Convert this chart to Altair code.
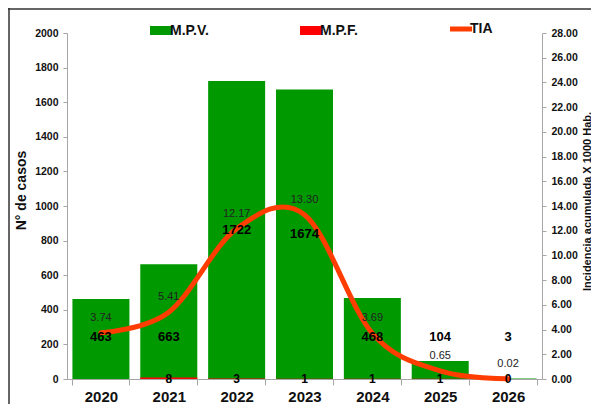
import altair as alt
import pandas as pd

# ---- data ----
years = ["2020", "2021", "2022", "2023", "2024", "2025", "2026"]
mpv = [463, 663, 1722, 1674, 468, 104, 3]
mpf = [None, 8, 3, 1, 1, 1, 0]
tia = [3.74, 5.41, 12.17, 13.30, 3.69, 0.65, 0.02]
series = ["M.P.V.", "M.P.F.", "TIA"]
left_ticks = list(range(0, 2001, 200))
right_ticks = list(range(0, 29, 2))

GREEN = "#009900"
RED = "#ff0000"
ORANGE = "#ff3d00"
INK = "#111111"
AXIS_GRAY = "#a6a6a6"
FONT = "Liberation Sans"
NARROW = "Liberation Sans Narrow, Arial Narrow, Liberation Sans"

rows = []
for yr, v in zip(years, mpv):
    rows.append({"year": yr, "serie": "M.P.V.", "value": v})
for yr, v in zip(years, mpf):
    if v is not None:
        rows.append({"year": yr, "serie": "M.P.F.", "value": v})
bars_df = pd.DataFrame(rows)
line_df = pd.DataFrame({"year": years, "serie": ["TIA"] * len(years), "tia": tia})
frame_df = pd.DataFrame({"k": [0]})

x_scale = alt.Scale(domain=years, paddingInner=0.16, paddingOuter=0.08)
left_scale = alt.Scale(domain=[0, 2000], nice=False)
right_scale = alt.Scale(domain=[0, 28], nice=False)
color_scale = alt.Scale(domain=series, range=[GREEN, RED, ORANGE])

legend = alt.Legend(
    title=None, orient="none", legendX=87, legendY=-11, direction="horizontal",
    columns=3, columnPadding=81, gridAlign="all", symbolSize=484,
    labelFont=FONT, labelFontSize=14, labelFontWeight="bold", labelColor=INK,
    labelOffset=2, padding=0, symbolOpacity=1,
    symbolType=alt.ExprRef(expr="datum.value === 'TIA' ? 'stroke' : 'M-1,-0.41L1,-0.41L1,0.41L-1,0.41Z'"),
    symbolStrokeWidth=alt.ExprRef(expr="datum.value === 'TIA' ? 5 : 0"),
)

x_axis = alt.Axis(
    title=None, labelAngle=0, tickBand="extent", grid=False,
    labelFont=FONT, labelFontSize=15, labelFontWeight="bold", labelColor=INK,
    tickSize=6, tickColor=AXIS_GRAY, domainColor=AXIS_GRAY, labelPadding=4,
)
x_enc = alt.X("year:O", scale=x_scale, axis=x_axis)

bars = alt.Chart(bars_df).mark_bar(opacity=1).encode(
    x=x_enc,
    y=alt.Y("value:Q", stack=None, scale=left_scale, axis=alt.Axis(
        values=left_ticks, format="d", title="N° de casos", grid=False,
        labelFont=FONT, labelFontSize=10.5, labelFontWeight="bold", labelColor=INK,
        tickSize=4, tickColor=AXIS_GRAY, domainColor=AXIS_GRAY, labelPadding=5,
        titleFont=FONT, titleFontSize=14, titleFontWeight="bold", titleColor=INK,
        titleAngle=270, titleX=-46, titleY=157, titleAlign="center", titleBaseline="middle",
    )),
    color=alt.Color("serie:N", scale=color_scale, legend=legend),
)

line = alt.Chart(line_df).mark_line(
    interpolate="cardinal", strokeWidth=5, strokeCap="round", strokeJoin="round"
).encode(
    x=x_enc,
    y=alt.Y("tia:Q", scale=right_scale, axis=alt.Axis(
        orient="right", values=right_ticks, format=".2f",
        title="Incidencia acumulada X 1000 Hab.", grid=False,
        labelFont=FONT, labelFontSize=10.5, labelFontWeight="bold", labelColor=INK,
        tickSize=4, tickColor=AXIS_GRAY, domainColor=AXIS_GRAY, labelPadding=5,
        titleFont=FONT, titleFontSize=11, titleFontWeight="bold", titleColor=INK,
        titleAngle=270, titleX=45, titleY=168, titleAlign="center", titleBaseline="middle",
    )),
    color=alt.Color("serie:N", scale=color_scale, legend=legend),
)

mpv_labels = alt.Chart(bars_df).transform_filter(
    "datum.serie === 'M.P.V.'"
).transform_calculate(
    ypos="datum.value > 1000 ? datum.value / 2 : 240"
).mark_text(font=NARROW, fontSize=13, fontWeight="bold", color="#000000", baseline="middle").encode(
    x=x_enc,
    y=alt.Y("ypos:Q", scale=left_scale, axis=None),
    text=alt.Text("value:Q", format="d"),
)

mpf_labels = alt.Chart(bars_df).transform_filter(
    "datum.serie === 'M.P.F.'"
).transform_calculate(ypos="0").mark_text(
    font=NARROW, fontSize=12, fontWeight="bold", color="#000000", baseline="middle"
).encode(
    x=x_enc,
    y=alt.Y("ypos:Q", scale=left_scale, axis=None),
    text=alt.Text("value:Q", format="d"),
)

tia_labels = alt.Chart(line_df).mark_text(
    font=NARROW, fontSize=11, color="#222222", baseline="middle", dy=-15
).encode(
    x=x_enc,
    y=alt.Y("tia:Q", scale=right_scale, axis=None),
    text=alt.Text("tia:Q", format=".2f"),
)

frame_top = alt.Chart(frame_df).mark_rule(color="#333333", strokeWidth=1.5).encode(
    x=alt.value(-59), x2=alt.value(524), y=alt.value(-24)
)
frame_left = alt.Chart(frame_df).mark_rule(color="#333333", strokeWidth=1.5).encode(
    x=alt.value(-58), y=alt.value(-25), y2=alt.value(371)
)

chart = alt.layer(
    bars, line, mpv_labels, mpf_labels, tia_labels, frame_top, frame_left
).resolve_scale(y="independent").properties(
    width=475, height=346,
    padding={"left": 59, "top": 25, "right": 49, "bottom": 25},
    autosize=alt.AutoSizeParams(type="none"),
    background="white",
).configure_view(stroke=None)

chart.save("out.html", embed_options={"renderer": "svg", "actions": False})
